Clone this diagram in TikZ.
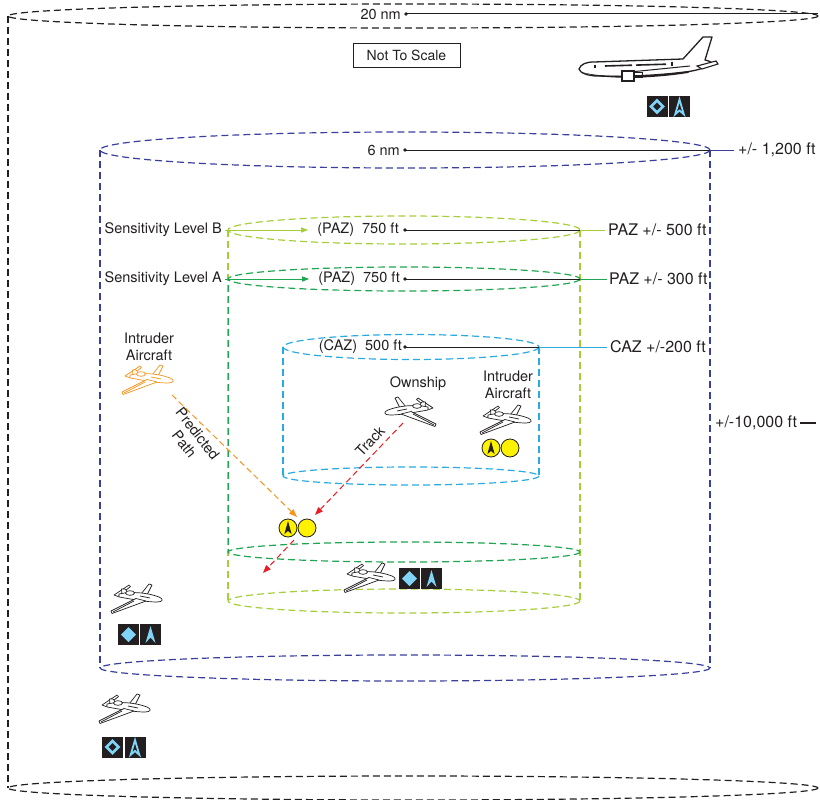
\documentclass[tikz,border=0pt]{standalone}
\usepackage{fontspec}
\setmainfont{TeX Gyre Heros}
\usetikzlibrary{arrows.meta}

\definecolor{ink}{HTML}{231F20}
\definecolor{navy}{HTML}{3A3F9E}
\definecolor{lime}{HTML}{A6CE39}
\definecolor{grn}{HTML}{1FA650}
\definecolor{sky}{HTML}{29ABE2}
\definecolor{orng}{HTML}{F7941D}
\definecolor{rd}{HTML}{ED1C24}
\definecolor{ylw}{HTML}{FFF200}
\definecolor{ice}{HTML}{80D4F7}

\tikzset{
  zone/.style={line width=1.2pt, dash pattern=on 7pt off 4pt},
  leader/.style={line width=1pt},
  label/.style={text=ink, inner sep=0pt},
  sidelabel/.style={label, font=\fontsize{16}{18}\selectfont},
  dotmark/.style={fill=ink},
  tip/.style={-{Triangle[length=7pt,width=5pt]}},
  path/.style={line width=1pt, dash pattern=on 6pt off 3.5pt, -{Triangle[length=8pt,width=6pt]}},
  % small business jet, nose to the right
  jet/.pic={
    \begin{scope}[line width=0.7pt, line join=round]
      \filldraw[fill=white, pic actions] (-23,-3) -- (-8,-13) -- (-6.5,-11.5) -- (-19,-1.5) -- cycle;
      \filldraw[fill=white, pic actions] (4,-4) -- (12,-14) -- (15,-13) -- (10,-3) -- cycle;
      \filldraw[fill=white, pic actions] (-15,-3) -- (-15.5,-9) -- (-12,-9) -- (-7,-3) -- cycle;
      \filldraw[fill=white, pic actions] (-18,-4) .. controls (-5,-7) and (12,-5) .. (22,-1)
        .. controls (27,1) and (26,4) .. (20,4) .. controls (8,4) and (-6,1) .. (-18,-1) -- cycle;
      \filldraw[fill=white, pic actions] (-7,-5) ellipse [x radius=4.5, y radius=2.3];
      \draw[pic actions] (3,-2) -- (13,0);
      \filldraw[fill=white, pic actions] (-1,0.5) -- (-26,13) -- (-25,15.5) -- (9,3) -- cycle;
      \draw[pic actions] (-3,3) -- (-24,14);
    \end{scope}
  },
  tile/.pic={\fill[ink] (-10.5,-10.5) rectangle (10.5,10.5);},
  diafill/.pic={\pic{tile}; \fill[ice] (0,-7.5) -- (7.5,0) -- (0,7.5) -- (-7.5,0) -- cycle;},
  diahollow/.pic={\pic{tile}; \draw[ice, line width=2.6pt] (0,-6) -- (6,0) -- (0,6) -- (-6,0) -- cycle;},
  arrfill/.pic={\pic{tile}; \fill[ice] (0,-8.5) -- (5,8.5) -- (0,3) -- (-5,8.5) -- cycle;},
  arrhollow/.pic={\pic{tile}; \draw[ice, line width=1.8pt, line join=miter] (0,-7) -- (4.3,7.8) -- (0,4) -- (-4.3,7.8) -- cycle;},
  tcasarrow/.pic={\draw[ink, fill=ylw, line width=0.8pt] (0,0) circle (9);
    \fill[ink] (0,-7) -- (3.6,6) -- (0,3) -- (-3.6,6) -- cycle;},
  tcasdot/.pic={\draw[ink, fill=ylw, line width=0.8pt] (0,0) circle (9);}
}

\begin{document}
\begin{tikzpicture}[x=1pt, y=-1pt, font=\fontsize{14.5}{17}\selectfont, every node/.style={label}]
\useasboundingbox (0,0) rectangle (820,800);

% ---------------- outer 20 nm volume ----------------
\coordinate (oT) at (413,16);
\coordinate (oB) at (413,788);
\coordinate (oTL) at (8,16);
\coordinate (oBL) at (8,788);
\coordinate (oTR) at (818,16);
\draw[zone, ink] (oT) ellipse [x radius=405, y radius=12];
\draw[zone, ink] (oB) ellipse [x radius=405, y radius=12];
\draw[zone, ink] (oTL) -- (oBL);

% ---------------- 6 nm volume ----------------
\coordinate (bT) at (405,150);
\coordinate (bB) at (405,668);
\coordinate (bTL) at (100,150);
\coordinate (bBL) at (100,668);
\coordinate (bTR) at (710,150);
\coordinate (bBR) at (710,668);
\draw[zone, navy] (bT) ellipse [x radius=305, y radius=18];
\draw[zone, navy] (bB) ellipse [x radius=305, y radius=13];
\draw[zone, navy] (bTL) -- (bBL);
\draw[zone, navy] (bTR) -- (bBR);

% ---------------- sensitivity level B (PAZ) ----------------
\coordinate (pT) at (404,230);
\coordinate (pB) at (404,601);
\coordinate (pTL) at (228,230);
\coordinate (pBL) at (228,601);
\coordinate (pTR) at (580,230);
\coordinate (pBR) at (580,601);
\draw[zone, lime] (pT) ellipse [x radius=176, y radius=14];
\draw[zone, lime] (pB) ellipse [x radius=176, y radius=12];
\draw[zone, lime] (pTL) -- (pBL);
\draw[zone, lime] (pTR) -- (pBR);

% ---------------- sensitivity level A (PAZ) ----------------
\coordinate (gT) at (404,279);
\coordinate (gB) at (404,552);
\coordinate (gTL) at (228,279);
\coordinate (gBL) at (228,552);
\coordinate (gTR) at (580,279);
\draw[zone, grn] (gT) ellipse [x radius=176, y radius=12];
\draw[zone, grn] (gB) ellipse [x radius=176, y radius=10];
\draw[zone, grn, dash phase=5.5pt, line width=0.9pt] (gTL) -- (gBL);

% ---------------- CAZ ----------------
\coordinate (cT) at (411,347);
\coordinate (cB) at (411,476);
\coordinate (cTL) at (283,347);
\coordinate (cBL) at (283,476);
\coordinate (cTR) at (539,347);
\coordinate (cBR) at (539,476);
\draw[zone, sky] (cT) ellipse [x radius=128, y radius=12.5];
\draw[zone, sky] (cB) ellipse [x radius=128, y radius=9];
\draw[zone, sky] (cTL) -- (cBL);
\draw[zone, sky] (cTR) -- (cBR);

% ---------------- range and altitude labels ----------------
\node[anchor=east] (nm20) at (401,14) {20 nm};
\coordinate (d20) at (406,14);
\coordinate (e20) at (818,14);
\fill[dotmark] (d20) circle (1.8);
\draw[leader, ink] (d20) -- (e20);

\node[draw=ink, line width=0.8pt, minimum width=107pt, minimum height=24pt,
      font=\fontsize{14}{16}\selectfont] (nts) at (406.5,55) {Not To Scale};

\node[anchor=east] (nm6) at (400,150) {6 nm};
\coordinate (d6) at (405,150);
\fill[dotmark] (d6) circle (1.8);
\draw[leader, ink] (d6) -- (bTR);
\node[sidelabel, anchor=west] (alt1200) at (738,150) {+/- 1,200 ft};
\draw[leader, navy] (bTR) -- ([xshift=-4pt]alt1200.west);

\node[anchor=east] (slB) at (222,230) {Sensitivity Level B};
\node[anchor=east] (pazB) at (399,230) {(PAZ)\ \ 750 ft};
\draw[leader, lime, tip] ([xshift=3pt]slB.east) -- ([xshift=-9pt]pazB.west);
\coordinate (dB) at (405,230);
\fill[dotmark] (dB) circle (1.8);
\draw[leader, ink] (dB) -- (pTR);
\node[sidelabel, anchor=west] (altB) at (608,230) {PAZ +/- 500 ft};
\draw[leader, lime] (pTR) -- ([xshift=-3pt]altB.west);

\node[anchor=east] (slA) at (222,279) {Sensitivity Level A};
\node[anchor=east] (pazA) at (400,279) {(PAZ)\ \ 750 ft};
\draw[leader, grn, tip] ([xshift=3pt]slA.east) -- ([xshift=-9pt]pazA.west);
\coordinate (dA) at (405,279);
\fill[dotmark] (dA) circle (1.8);
\draw[leader, ink] (dA) -- (gTR);
\node[sidelabel, anchor=west] (altA) at (609,279) {PAZ +/- 300 ft};
\draw[leader, grn] (gTR) -- ([xshift=-2pt]altA.west);

\node[anchor=east] (caz) at (402,347) {(CAZ)\ \ 500 ft};
\coordinate (dC) at (405,347);
\fill[dotmark] (dC) circle (1.8);
\draw[leader, ink] (dC) -- (cTR);
\node[sidelabel, anchor=west] (altC) at (610,347) {CAZ +/-200 ft};
\draw[leader, sky] (cTR) -- ([xshift=-3pt]altC.west);

\node[sidelabel, anchor=west] (alt10k) at (715,423) {+/-10,000 ft};
\coordinate (dashL) at (800,423);
\coordinate (dashR) at (816,423);
\draw[ink, line width=2pt] (dashL) -- (dashR);

% ---------------- airliner outside the 6 nm volume ----------------
\filldraw[ink, fill=white, line width=1.3pt, line join=round]
  (579,69) .. controls (581,64) and (586,62) .. (594,62) -- (683,59) -- (703,37) -- (712,37)
  -- (705,60) .. controls (709,61) and (712,62) .. (713,64) .. controls (705,68) and (695,71) .. (685,72)
  .. controls (660,75) and (630,77) .. (598,76) .. controls (588,76) and (580,73) .. (579,69) -- cycle;
\fill[ink] (582,72) .. controls (600,78) and (650,77) .. (690,71) -- (688,73) .. controls (650,79) and (600,80) .. (582,72) -- cycle;
\filldraw[ink, fill=white, line width=1.1pt] (697,66) -- (716,61) -- (718,64) -- (702,69) -- cycle;
\draw[ink, line width=1pt] (630,72) -- (690,66);
\filldraw[ink, fill=white, line width=1.1pt] (622,71) rectangle (634,81);
\draw[ink, line width=1pt] (634,73) -- (642,73) -- (642,78) -- (634,78);
\draw[ink, line width=2pt] (595,65) -- (595,68);
\draw[ink, line width=1.6pt] (605,66) -- (632,65.2);
\draw[ink, line width=1.6pt] (636,65.1) -- (666,64.2);
\draw[ink, line width=2pt] (672,62.5) -- (672,66);
\pic at (657,106.5) {diahollow};
\pic at (679.5,106.5) {arrhollow};

% ---------------- intruder with predicted path ----------------
\node[align=center] (intrL) at (149,347) {Intruder\\Aircraft};
\pic[draw=orng] at (148,379) {jet};
\coordinate (orgStart) at (172,395);
\coordinate (orgEnd) at (297,517);
\draw[path, orng] (orgStart) -- (orgEnd);
\node[align=center, rotate=-52] (pred) at (191,439) {Predicted\\Path};

% ---------------- ownship and its track ----------------
\node (own) at (418,384) {Ownship};
\pic[draw=ink, xscale=-1] at (410,411) {jet};
\coordinate (trkStart) at (403,423);
\coordinate (trkEnd) at (315,515);
\draw[path, rd] (trkStart) -- (trkEnd);
\node[rotate=47] (trk) at (370,441) {Track};
\coordinate (trk2Start) at (294,540);
\coordinate (trk2End) at (263,573);
\draw[path, rd] (trk2Start) -- (trk2End);

% resolution advisory symbols at the closest point
\pic at (288,528) {tcasarrow};
\pic at (307,528) {tcasdot};

% ---------------- intruder inside the CAZ ----------------
\node[align=center] (intrR) at (508,385) {Intruder\\Aircraft};
\pic[draw=ink] at (506,419) {jet};
\pic at (491,448) {tcasarrow};
\pic at (510,448) {tcasdot};

% ---------------- traffic in the lower part ----------------
\pic[draw=ink] at (370,577) {jet};
\pic at (409.5,578.5) {diafill};
\pic at (431.5,578.5) {arrfill};

\pic[draw=ink] at (137,598) {jet};
\pic at (128.5,634.5) {diafill};
\pic at (150.5,634.5) {arrfill};

\pic[draw=ink] at (125,708) {jet};
\pic at (112.5,747) {diahollow};
\pic at (135,747) {arrhollow};

\end{tikzpicture}
\end{document}
